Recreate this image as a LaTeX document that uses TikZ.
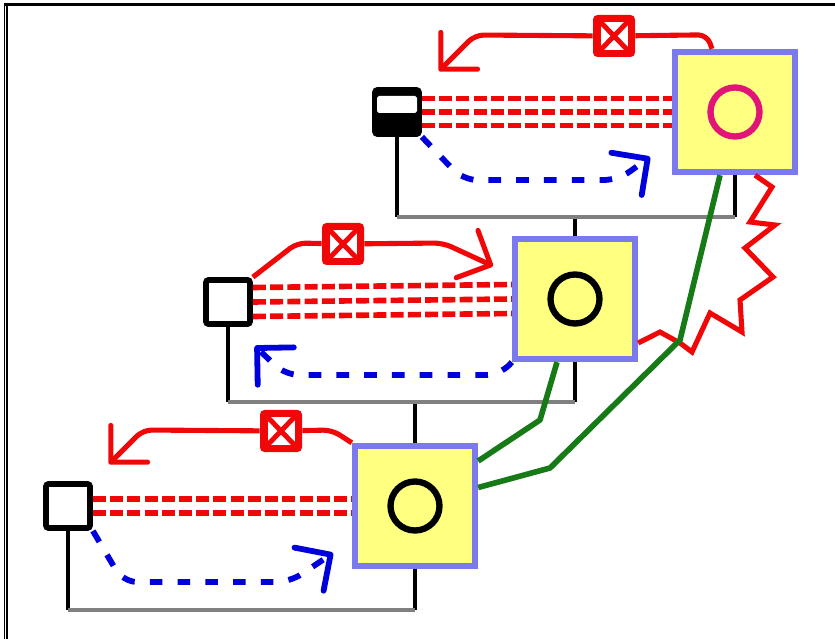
\documentclass[tikz,border=0pt]{standalone}
\usepackage{tikz}
\usepackage{xcolor}
\usetikzlibrary{arrows.meta,calc,positioning}

\definecolor{boxedge}{RGB}{122,122,238}
\definecolor{boxfill}{RGB}{255,255,128}
\definecolor{wirered}{RGB}{240,8,8}
\definecolor{loopblue}{RGB}{0,0,220}
\definecolor{linkgreen}{RGB}{22,122,22}
\definecolor{ringred}{RGB}{225,20,120}

\tikzset{
  bigbox/.style={draw=boxedge, fill=boxfill, line width=3.6pt, minimum size=2.4cm, inner sep=0pt},
  ring/.style={circle, draw=black, line width=3.6pt, minimum size=0.98cm, inner sep=0pt},
  smallbox/.style={draw=black, fill=white, line width=3.3pt, rounded corners=1.5pt, minimum size=0.88cm, inner sep=0pt},
  xbox/.style={fill=wirered, rounded corners=2.5pt, minimum size=0.84cm, inner sep=0pt,
    path picture={
      \fill[white, sharp corners] ([shift={(-0.27cm,-0.28cm)}]path picture bounding box.center) rectangle ([shift={(0.27cm,0.28cm)}]path picture bounding box.center);
      \draw[wirered, line width=2.8pt, sharp corners] ([shift={(-0.27cm,-0.28cm)}]path picture bounding box.center) -- ([shift={(0.27cm,0.28cm)}]path picture bounding box.center)
        ([shift={(-0.27cm,0.28cm)}]path picture bounding box.center) -- ([shift={(0.27cm,-0.28cm)}]path picture bounding box.center);
    }},
  bus/.style={wirered, line width=3.2pt, dash pattern=on 7.4pt off 2.4pt},
  ctrl/.style={wirered, line width=2.9pt, rounded corners=5pt},
  tip/.style={-{Straight Barb[length=0.52cm,width=1.04cm,round]}},
  back/.style={loopblue, line width=3.3pt, dash pattern=on 7.2pt off 8.6pt, rounded corners=8pt},
  wire/.style={black, line width=2.6pt},
  bar/.style={gray, line width=2.8pt},
  link/.style={linkgreen, line width=3.2pt, line join=round},
  zig/.style={wirered, line width=2.9pt}
}

\begin{document}
\begin{tikzpicture}[x=0.2mm, y=-0.2mm]
\useasboundingbox (0,0) rectangle (835,639);
\draw[line width=1.2pt] (4,4.5) -- (835,4.5);
\draw[line width=0.6pt] (4.5,4) -- (4.5,639) (7,6) -- (7,639);

\node[bigbox] (b3) at (735,112) {};
\node[ring, draw=ringred] (r3) at (b3) {};
\node[bigbox] (b2) at (575,299) {};
\node[ring] (r2) at (b2) {};
\node[bigbox] (b1) at (415,506) {};
\node[ring] (r1) at (b1) {};

\node[smallbox, fill=black] (s3) at (397,112) {};
\fill[white, rounded corners=1pt] ([xshift=-0.4cm,yshift=0.32cm]s3.center) rectangle ([xshift=0.4cm,yshift=-0.02cm]s3.center);
\node[smallbox] (s2) at (228,302) {};
\node[smallbox] (s1) at (68,506) {};

\node[xbox] (x3) at (614,36) {};
\node[xbox] (x2) at (343,244) {};
\node[xbox] (x1) at (281,431) {};

\coordinate (t3) at (439,71);
\coordinate (t2) at (493,266);
\coordinate (t1) at (109,464);
\coordinate (u3) at (650,157);
\coordinate (u2) at (255,346);
\coordinate (u1) at (333,553);

\coordinate (bar3) at (577,217);
\coordinate (bar2) at (415,402);
\coordinate (bar1) at (68,610);

\draw[wire] (s3.south) -- (s3.south |- bar3);
\draw[wire] (b3.south) -- (b3.south |- bar3);
\draw[wire] (b2.north) -- (b2.north |- bar3);
\draw[bar] (s3.south |- bar3) -- (b3.south |- bar3);
\draw[wire] (s2.south) -- (s2.south |- bar2);
\draw[wire] (b2.south) -- (b2.south |- bar2);
\draw[wire] (b1.north) -- (b1.north |- bar2);
\draw[bar] (s2.south |- bar2) -- (b2.south |- bar2);
\draw[wire] (s1.south) -- (s1.south |- bar1);
\draw[wire] (b1.south) -- (b1.south |- bar1);
\draw[bar] (s1.south |- bar1) -- (b1.south |- bar1);

\foreach \dy in {0.27cm,0cm,-0.27cm}
  \draw[bus] ([yshift=\dy]s3.east) -- ([yshift=\dy]b3.west);
\foreach \dy in {0.29cm,0cm,-0.29cm}
  \draw[bus] ([yshift=\dy]s2.east) -- ([yshift=\dy]b2.west);
\foreach \dy in {0.14cm,-0.14cm}
  \draw[bus] ([yshift=\dy]s1.east) -- ([yshift=\dy]b1.west);

\draw[ctrl] ([xshift=-0.46cm]b3.north) -- ++(-5,-14) -- (x3);
\draw[ctrl, tip] (x3) -- (475,35) -- (t3);
\draw[ctrl] (s2.north east) -- (297,243) -- (x2);
\draw[ctrl, tip] (x2) -- (443,243) -- (t2);
\draw[ctrl] (b1.north west) -- (332,430) -- (x1);
\draw[ctrl, tip] (x1) -- (143,430) -- (t1);

\draw[back, tip] (s3.south east) -- (463,180) -- (618,180) -- (u3);
\draw[back, tip] (b2.south west) -- (500,375) -- (285,375) -- (u2);
\draw[back, tip] (s1.south east) -- (123,582) -- (290,582) -- (u1);

\draw[zig] ([xshift=0.4cm]b3.south) -- (772,187) -- (750,222) -- (775,225) -- (745,248) -- (773,277) -- (740,300) -- (742,332) -- (710,313) -- (692,352) -- (680,343) -- (660,332) -- ([yshift=-0.88cm]b2.east);

\draw[link] ([xshift=-0.3cm]b3.south) -- (680,340) -- (550,468) -- ([yshift=0.37cm]b1.east);
\draw[link] ([xshift=-0.36cm]b2.south) -- (540,420) -- ([yshift=0.9cm]b1.east);
\end{tikzpicture}
\end{document}
